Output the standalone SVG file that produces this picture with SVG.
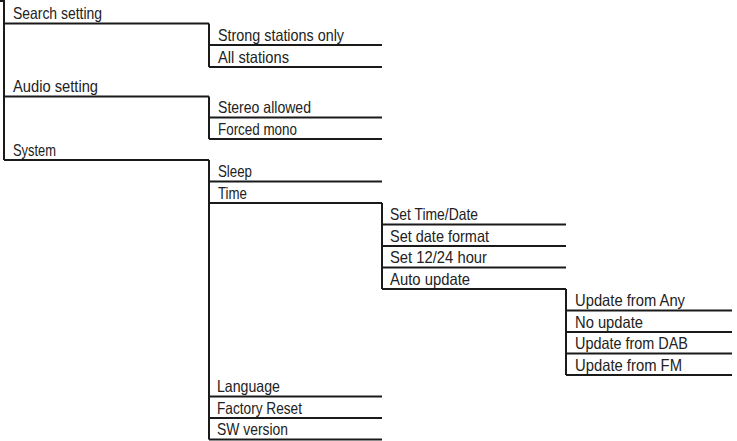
<svg xmlns="http://www.w3.org/2000/svg" width="737" height="441" viewBox="0 0 737 441">
<style>
text{font-family:"Liberation Sans","DejaVu Sans",sans-serif;font-size:16.5px;fill:#222}
.u{stroke:#1a1a1a;stroke-width:2;fill:none}
.c{stroke:#1a1a1a;stroke-width:2;fill:none}
</style>
<rect width="737" height="441" fill="#fff"/>
<g id="connectors">
<path class="c" d="M0,1 H4 V160"/>
<path class="c" d="M209,23.5 V67"/>
<path class="c" d="M209,96.5 V139"/>
<path class="c" d="M209,160 V439.5"/>
<path class="c" d="M382,203 V289"/>
<path class="c" d="M566,289 V375"/>
</g>
<g id="search-setting"><text x="13" y="19" textLength="89" lengthAdjust="spacingAndGlyphs">Search setting</text><path class="u" d="M4,23.5 H209"/></g>
<g id="strong-stations-only"><text x="218" y="41" textLength="126" lengthAdjust="spacingAndGlyphs">Strong stations only</text><path class="u" d="M209,45 H382"/></g>
<g id="all-stations"><text x="218" y="62.5" textLength="71" lengthAdjust="spacingAndGlyphs">All stations</text><path class="u" d="M209,67 H382"/></g>
<g id="audio-setting"><text x="13" y="92" textLength="85" lengthAdjust="spacingAndGlyphs">Audio setting</text><path class="u" d="M4,96.5 H209"/></g>
<g id="stereo-allowed"><text x="218" y="113" textLength="93" lengthAdjust="spacingAndGlyphs">Stereo allowed</text><path class="u" d="M209,117.5 H382"/></g>
<g id="forced-mono"><text x="218" y="134.5" textLength="79" lengthAdjust="spacingAndGlyphs">Forced mono</text><path class="u" d="M209,139 H382"/></g>
<g id="system"><text x="13" y="155.5" textLength="43" lengthAdjust="spacingAndGlyphs">System</text><path class="u" d="M4,160 H209"/></g>
<g id="sleep"><text x="218" y="177" textLength="34" lengthAdjust="spacingAndGlyphs">Sleep</text><path class="u" d="M209,181.5 H382"/></g>
<g id="time"><text x="218" y="198.5" textLength="29" lengthAdjust="spacingAndGlyphs">Time</text><path class="u" d="M209,203 H382"/></g>
<g id="set-time-date"><text x="390" y="220" textLength="88" lengthAdjust="spacingAndGlyphs">Set Time/Date</text><path class="u" d="M382,224.5 H566"/></g>
<g id="set-date-format"><text x="390" y="241.5" textLength="99" lengthAdjust="spacingAndGlyphs">Set date format</text><path class="u" d="M382,246 H566"/></g>
<g id="set-12-24-hour"><text x="390" y="263" textLength="97" lengthAdjust="spacingAndGlyphs">Set 12/24 hour</text><path class="u" d="M382,267.5 H566"/></g>
<g id="auto-update"><text x="390" y="284.5" textLength="80" lengthAdjust="spacingAndGlyphs">Auto update</text><path class="u" d="M382,289 H566"/></g>
<g id="update-from-any"><text x="575" y="306" textLength="110" lengthAdjust="spacingAndGlyphs">Update from Any</text><path class="u" d="M566,310.5 H732"/></g>
<g id="no-update"><text x="575" y="327.5" textLength="68" lengthAdjust="spacingAndGlyphs">No update</text><path class="u" d="M566,332 H732"/></g>
<g id="update-from-dab"><text x="575" y="349" textLength="113" lengthAdjust="spacingAndGlyphs">Update from DAB</text><path class="u" d="M566,353.5 H732"/></g>
<g id="update-from-fm"><text x="575" y="370.5" textLength="107" lengthAdjust="spacingAndGlyphs">Update from FM</text><path class="u" d="M566,375 H732"/></g>
<g id="language"><text x="217" y="392" textLength="63" lengthAdjust="spacingAndGlyphs">Language</text><path class="u" d="M209,396.5 H382"/></g>
<g id="factory-reset"><text x="217" y="413.5" textLength="85" lengthAdjust="spacingAndGlyphs">Factory Reset</text><path class="u" d="M209,418 H382"/></g>
<g id="sw-version"><text x="217" y="435" textLength="71" lengthAdjust="spacingAndGlyphs">SW version</text><path class="u" d="M209,439.5 H382"/></g>
</svg>
